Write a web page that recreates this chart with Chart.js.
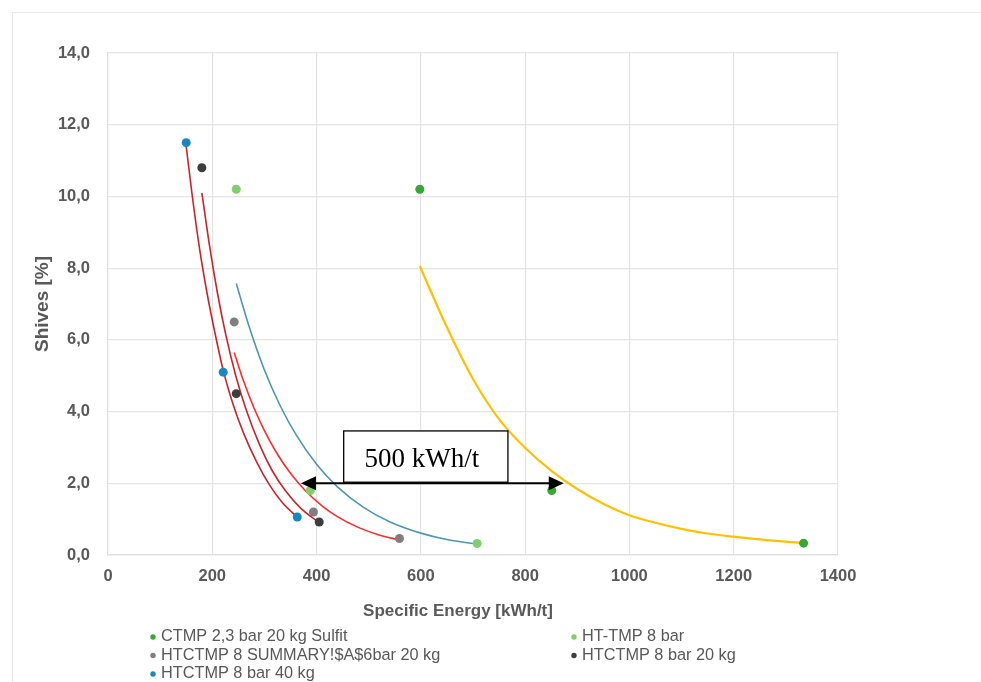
<!DOCTYPE html>
<html><head><meta charset="utf-8">
<script src="https://cdn.jsdelivr.net/npm/chart.js@4.4.1/dist/chart.umd.min.js"></script>
<style>
html,body{margin:0;padding:0;background:#fff;overflow:hidden;}
#wrap{position:relative;width:981px;height:682px;}
#frame{position:absolute;left:12px;top:12px;width:1100px;height:800px;border:1px solid #e9e9e9;box-sizing:border-box;}
canvas{position:absolute;left:0;top:0;}
</style></head><body>
<div id="wrap"><div id="frame"></div><canvas id="c" width="981" height="682"></canvas></div>
<script>
// ---- measured points ----
const seriesNames = ['CTMP 2,3 bar 20 kg Sulfit', 'HT-TMP 8 bar', 'HTCTMP 8 SUMMARY!$A$6bar 20 kg', 'HTCTMP 8 bar 20 kg', 'HTCTMP 8 bar 40 kg'];
const ctmpX = [598, 851, 1334];
const ctmpY = [10.2, 1.8, 0.33];
const httmpX = [246, 388, 708];
const httmpY = [10.2, 1.8, 0.32];
const summaryX = [242, 394, 559];
const summaryY = [6.5, 1.2, 0.46];
const bar20X = [180, 246, 405];
const bar20Y = [10.8, 4.5, 0.92];
const bar40X = [150, 221, 363];
const bar40Y = [11.5, 5.1, 1.06];

// ---- trend curves ----
const trend40X = [150, 160, 175, 190, 205, 221, 240, 260, 285, 310, 335, 363];
const trend40Y = [11.4, 10.2, 8.6, 7.3, 6.2, 5.15, 4.2, 3.4, 2.6, 1.95, 1.45, 1.06];
const trend20X = [180, 195, 210, 225, 245, 265, 290, 315, 340, 370, 405];
const trend20Y = [10.1, 8.6, 7.3, 6.2, 5.0, 4.05, 3.1, 2.35, 1.8, 1.3, 0.9];
const trendSumX = [242, 260, 280, 300, 325, 350, 380, 410, 440, 480, 520, 559];
const trendSumY = [5.65, 4.85, 4.1, 3.47, 2.81, 2.28, 1.77, 1.38, 1.07, 0.77, 0.56, 0.42];
const trendHtX = [246, 270, 300, 330, 360, 400, 440, 490, 540, 600, 650, 708];
const trendHtY = [7.57, 6.4, 5.16, 4.17, 3.37, 2.53, 1.9, 1.33, 0.93, 0.61, 0.43, 0.3];
const trendCtX = [598, 650, 700, 750, 800, 850, 900, 950, 1000, 1050, 1100, 1150, 1200, 1260, 1334];
const trendCtY = [8.06, 6.35, 4.91, 3.79, 2.99, 2.35, 1.84, 1.43, 1.11, 0.9, 0.73, 0.6, 0.51, 0.42, 0.33];

// ---- axes ----
const xMin = 0, xMax = 1400, xStep = 200;
const yMin = 0, yMax = 14, yStep = 2;
const xTitle = 'Specific Energy [kWh/t]';
const yTitle = 'Shives [%]';

// ---- annotation (data units) ----
const noteText = '500 kWh/t';
const arrowFrom = 370, arrowTo = 874, arrowAt = 2.0;
const boxLeft = 452, boxRight = 767, boxTop = 3.46, boxBottom = 2.03;

const zip = (xs, ys) => xs.map((v, i) => ({x: v, y: ys[i]}));
const pointColors = ['#36a833', '#7fcf6c', '#7f7f7f', '#3d3d3d', '#1787c4'];
const pointSets = [[ctmpX, ctmpY], [httmpX, httmpY], [summaryX, summaryY], [bar20X, bar20Y], [bar40X, bar40Y]];

const datasets = [];
pointSets.forEach((s, i) => {
  datasets.push({
    label: seriesNames[i], data: zip(s[0], s[1]), showLine: false, order: 0,
    pointRadius: 4.5, pointHoverRadius: 4.5, pointBorderWidth: 0,
    backgroundColor: pointColors[i], borderColor: pointColors[i], isPoint: true
  });
});
const trends = [
  [trend40X, trend40Y, '#c8232b', 1.6],
  [trend20X, trend20Y, '#c8232b', 1.6],
  [trendSumX, trendSumY, '#ff2b2b', 1.6],
  [trendHtX, trendHtY, '#4d97b4', 1.6],
  [trendCtX, trendCtY, '#ffc000', 2.2]
];
trends.forEach(t => {
  datasets.push({
    label: '', data: zip(t[0], t[1]), showLine: true, order: 1,
    pointRadius: 0, borderColor: t[2], borderWidth: t[3], fill: false,
    cubicInterpolationMode: 'monotone'
  });
});

const fontFam = '"Liberation Sans", Arial, sans-serif';
const grey = '#595959';

const annotPlugin = {
  id: 'annot',
  afterDatasetsDraw(chart) {
    const {ctx, scales: {x, y}} = chart;
    const bx1 = x.getPixelForValue(boxLeft), bx2 = x.getPixelForValue(boxRight);
    const by1 = y.getPixelForValue(boxTop), by2 = y.getPixelForValue(boxBottom);
    ctx.save();
    ctx.fillStyle = '#fff';
    ctx.fillRect(bx1, by1, bx2 - bx1, by2 - by1);
    ctx.strokeStyle = '#000'; ctx.lineWidth = 1.3;
    ctx.strokeRect(bx1, by1, bx2 - bx1, by2 - by1);
    ctx.fillStyle = '#000';
    ctx.font = '27px "Liberation Serif", "Times New Roman", serif';
    ctx.textAlign = 'center'; ctx.textBaseline = 'middle';
    ctx.fillText(noteText, (bx1 + bx2) / 2 - 4, (by1 + by2) / 2 + 3);
    const ay = y.getPixelForValue(arrowAt);
    const ax1 = x.getPixelForValue(arrowFrom), ax2 = x.getPixelForValue(arrowTo);
    const hl = 15, hw = 7;
    ctx.lineWidth = 2;
    ctx.beginPath(); ctx.moveTo(ax1 + hl - 1, ay); ctx.lineTo(ax2 - hl + 1, ay); ctx.stroke();
    ctx.beginPath(); ctx.moveTo(ax1, ay); ctx.lineTo(ax1 + hl, ay - hw); ctx.lineTo(ax1 + hl, ay + hw); ctx.closePath(); ctx.fill();
    ctx.beginPath(); ctx.moveTo(ax2, ay); ctx.lineTo(ax2 - hl, ay - hw); ctx.lineTo(ax2 - hl, ay + hw); ctx.closePath(); ctx.fill();
    ctx.restore();
  },
  afterDraw(chart) {
    const {ctx} = chart;
    ctx.save();
    // x-axis title (placed as in the original, slightly left of the plot centre)
    ctx.font = 'bold 17px ' + fontFam;
    ctx.fillStyle = grey; ctx.textAlign = 'center'; ctx.textBaseline = 'middle';
    ctx.fillText(xTitle, 458, 611);
    // legend
    const cols = [153, 574], rows = [637, 655.5, 674];
    const items = chart.data.datasets.filter(d => d.isPoint);
    ctx.font = '16.3px ' + fontFam;
    ctx.textAlign = 'left';
    items.forEach((d, i) => {
      const cx = cols[i % 2], cy = rows[Math.floor(i / 2)];
      ctx.fillStyle = d.backgroundColor;
      ctx.beginPath(); ctx.arc(cx, cy, 2.7, 0, Math.PI * 2); ctx.fill();
      ctx.fillStyle = grey;
      ctx.fillText(d.label, cx + 8, cy);
    });
    ctx.restore();
  }
};

new Chart(document.getElementById('c'), {
  type: 'scatter',
  data: {datasets},
  plugins: [annotPlugin],
  options: {
    responsive: false, animation: false, devicePixelRatio: 1,
    layout: {padding: {left: 0, top: 53, right: 143, bottom: 57}},
    plugins: {legend: {display: false}, tooltip: {enabled: false}},
    scales: {
      x: {
        type: 'linear', min: xMin, max: xMax,
        afterFit: s => { s.height = 70; },
        ticks: {stepSize: xStep, padding: 12, color: grey, font: {family: fontFam, size: 16.5, weight: 'bold'},
          callback: v => String(v)},
        grid: {color: '#e4e4e4', lineWidth: 1.2, drawTicks: false},
        border: {color: '#e0e0e0', width: 1.2},
        title: {display: false}
      },
      y: {
        type: 'linear', min: yMin, max: yMax,
        afterFit: s => { s.width = 108; },
        ticks: {stepSize: yStep, padding: 18, color: grey, font: {family: fontFam, size: 16.5, weight: 'bold'},
          callback: v => v.toFixed(1).replace('.', ',')},
        grid: {color: '#e4e4e4', lineWidth: 1.2, drawTicks: false},
        border: {color: '#e0e0e0', width: 1.2},
        title: {display: true, text: yTitle, color: grey, padding: {top: 31, bottom: 0}, font: {family: fontFam, size: 19, weight: 'bold'}}
      }
    }
  }
});
</script>
</body></html>
